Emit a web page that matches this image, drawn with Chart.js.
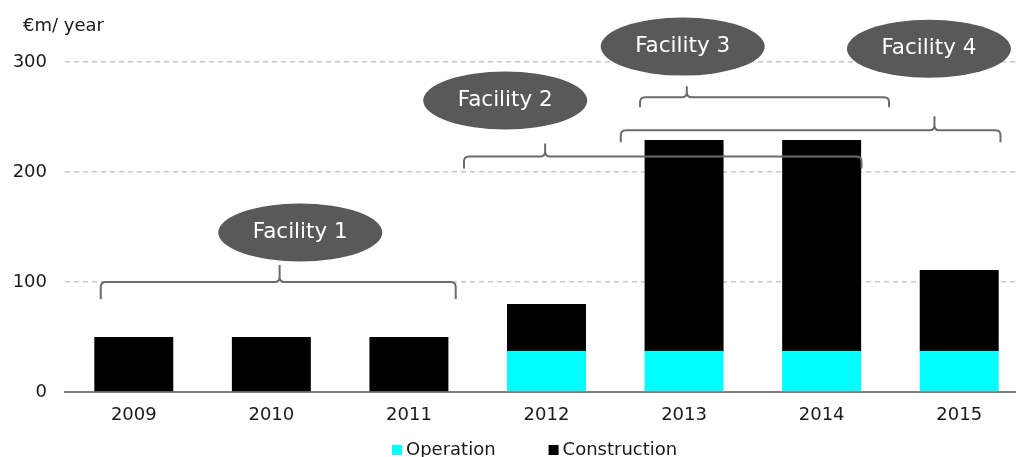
<!DOCTYPE html>
<html>
<head>
<meta charset="utf-8">
<script src="https://cdn.jsdelivr.net/npm/chart.js@4.4.0/dist/chart.umd.min.js"></script>
<style>
body{margin:0;overflow:hidden;background:#fff;}
#wrap{width:1028px;height:457px;}
</style>
</head>
<body>
<div id="wrap"><canvas id="costChart"></canvas></div>
<script>
// data
const years = ["2009","2010","2011","2012","2013","2014","2015"];
const operation = [0,0,0,37,37,37,37];
const construction = [50,50,50,43,192,192,74];
const yTicks = [0,100,200,300];
const facilities = ["Facility 1","Facility 2","Facility 3","Facility 4"];
const unitLabel = "€m/ year";

// where the braces sit (category index / axis value)
const braces = [
    {from:-0.24, to:2.34, peak:1.06, at:100, hook:17, up:17, cx:1.21, cy:145},
    {from:2.40, to:5.29, peak:2.99, at:214, hook:12, up:13, cx:2.70, cy:265},
    {from:3.68, to:5.49, peak:4.02, at:268, hook:10, up:11, cx:3.99, cy:314},
    {from:3.54, to:6.30, peak:5.82, at:238, hook:12, up:14, cx:5.78, cy:312}
];

const FONT = "'DejaVu Sans', Verdana, sans-serif";

const bracePlugin = {
    id:"braces",
    afterDatasetsDraw(chart){
        const ctx = chart.ctx;
        const x = chart.scales.x, y = chart.scales.y;
        ctx.save();
        braces.forEach((b,i)=>{
            const x0 = x.getPixelForValue(b.from);
            const x1 = x.getPixelForValue(b.to);
            const px = x.getPixelForValue(b.peak);
            const py = y.getPixelForValue(b.at);
            const r = 5;
            ctx.strokeStyle = "#6b6b6b";
            ctx.lineWidth = 2;
            ctx.beginPath();
            ctx.moveTo(x0, py + b.hook);
            ctx.lineTo(x0, py + r);
            ctx.quadraticCurveTo(x0, py, x0 + r, py);
            ctx.lineTo(px - r, py);
            ctx.quadraticCurveTo(px, py, px, py - r);
            ctx.lineTo(px, py - b.up);
            ctx.moveTo(px, py - r);
            ctx.quadraticCurveTo(px, py, px + r, py);
            ctx.lineTo(x1 - r, py);
            ctx.quadraticCurveTo(x1, py, x1, py + r);
            ctx.lineTo(x1, py + b.hook);
            ctx.stroke();

            const ex = x.getPixelForValue(b.cx);
            const ey = y.getPixelForValue(b.cy);
            ctx.fillStyle = "#595959";
            ctx.beginPath();
            ctx.ellipse(ex, ey, 82, 29, 0, 0, Math.PI*2);
            ctx.fill();
            ctx.fillStyle = "#ffffff";
            ctx.font = "21.5px " + FONT;
            ctx.textAlign = "center";
            ctx.textBaseline = "middle";
            ctx.fillText(facilities[i], ex, ey);
        });
        ctx.restore();
    },
    afterDraw(chart){
        const ctx = chart.ctx;
        ctx.save();
        // unit label
        ctx.fillStyle = "#1a1a1a";
        ctx.font = "18px " + FONT;
        ctx.textAlign = "left";
        ctx.textBaseline = "middle";
        ctx.fillText(unitLabel, 23, 26);
        // legend
        let lx = 392;
        chart.data.datasets.forEach(ds=>{
            ctx.fillStyle = ds.backgroundColor;
            ctx.fillRect(lx, 445, 10, 10);
            ctx.fillStyle = "#1a1a1a";
            ctx.fillText(ds.label, lx + 14, 450);
            lx += 14 + ctx.measureText(ds.label).width + 53;
        });
        ctx.restore();
    }
};

new Chart(
document.getElementById("costChart"),
{
    type:"bar",

    data:{
        labels:years,
        datasets:[
            {
                label:"Operation",
                data:operation,
                backgroundColor:"#00ffff",
                barPercentage:0.574,
                categoryPercentage:1
            },
            {
                label:"Construction",
                data:construction,
                backgroundColor:"#000000",
                barPercentage:0.574,
                categoryPercentage:1
            }
        ]
    },

    options:{
        responsive:true,
        maintainAspectRatio:false,
        animation:false,
        layout:{padding:{top:62,left:0,right:0,bottom:0}},
        plugins:{
            legend:{display:false},
            tooltip:{enabled:false}
        },
        scales:{
            x:{
                stacked:true,
                grid:{display:false,drawTicks:false},
                border:{display:true,color:"#7f7f7f",width:2},
                ticks:{color:"#1a1a1a",font:{family:FONT,size:18},padding:13},
                afterFit(s){ s.height = 65; }
            },
            y:{
                stacked:true,
                min:0,
                max:300,
                afterBuildTicks(s){ s.ticks = yTicks.map(v=>({value:v})); },
                grid:{
                    drawTicks:false,
                    lineWidth:1.5,
                    color:(c)=> c.tick && c.tick.value === 0 ? "rgba(0,0,0,0)" : "#c8c8c8"
                },
                border:{display:false,dash:[5,4]},
                ticks:{color:"#1a1a1a",font:{family:FONT,size:18},padding:18},
                afterFit(s){ s.width = 65; }
            }
        }
    },

    plugins:[bracePlugin]
});
</script>
</body>
</html>
